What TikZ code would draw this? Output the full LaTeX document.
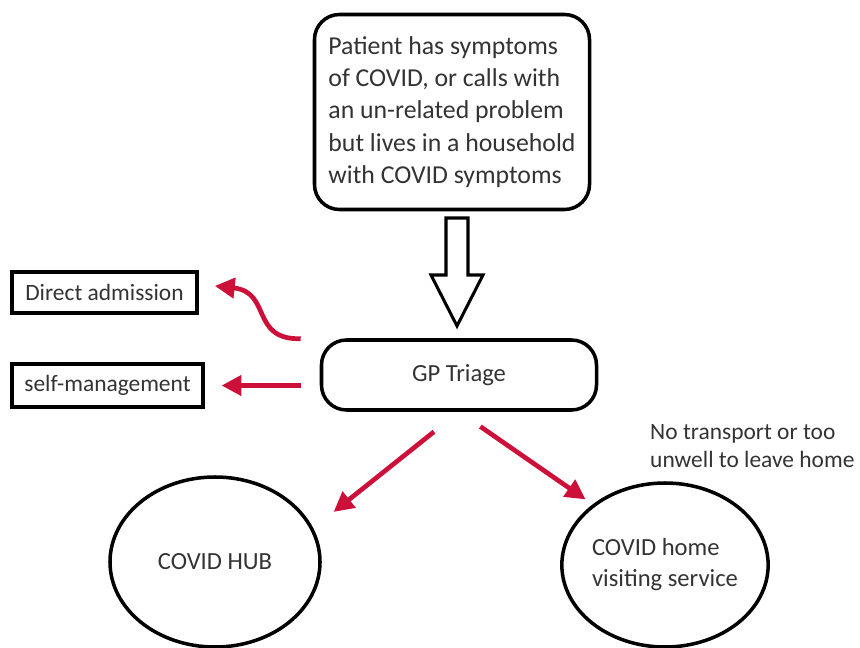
\documentclass[tikz,border=0pt]{standalone}
\usepackage{fontspec}
\setmainfont{Carlito}
\usepackage{tikz}
\usetikzlibrary{
	shapes.geometric,
	arrows.meta,
	calc
}
\definecolor{triagered}{RGB}{205,16,58}
\definecolor{inktext}{RGB}{51,51,51}

\begin{document}
\begin{tikzpicture}[
				x=0.03cm, y=-0.03cm,
				font=\fontsize{21}{26.5}\selectfont, text=inktext,
				stage/.style={
					rectangle, draw, line width=3pt, rounded corners=0.75cm,
					align=center
				},
				labelbox/.style={
					rectangle, draw, line width=3.2pt, inner sep=0pt,
					font=\fontsize{20}{24}\selectfont
				},
				service/.style={
					ellipse, draw, line width=3pt, inner sep=0pt, align=left
				},
				arrow/.style={-{Triangle[length=17pt,width=17pt]}, line width=4pt, triagered}
				]
				\useasboundingbox (0,0) rectangle (860,648);
				
				% patient
				\node[stage, minimum width=8.25cm, minimum height=5.85cm, align=left,
					font=\fontsize{22}{27.5}\selectfont] (patient) at (452,112)
					{Patient has symptoms\\of COVID, or calls with\\an un-related problem\\but lives in a household\\with COVID symptoms};
				
				% GP triage
				\node[stage, minimum width=8.25cm, minimum height=2.1cm] (triage) at (459,375) {GP Triage};
				
				% direct admission
				\node[labelbox, minimum width=5.55cm, minimum height=1.23cm] (admission) at (104.5,292.5) {Direct admission};
				
				% self-management
				\node[labelbox, minimum width=5.73cm, minimum height=1.29cm] (selfcare) at (107.5,385.5) {self-management};
				
				% hub
				\node[service, minimum width=6.3cm, minimum height=5.1cm] (hub) at (215,562) {COVID HUB};
				
				% home visiting
				\node[service, minimum width=6.15cm, minimum height=4.92cm] (home) at (665,565) {COVID home\\visiting service};
				
				% note
				\node[anchor=north west, inner sep=0pt, align=left,
					font=\fontsize{20}{24}\selectfont] (note) at (650,424) {No transport or too\\unwell to leave home};
				
				% hollow arrow
				\draw[line width=2.6pt, fill=white] (446,218) -- (468,218) -- (468,275) -- (483,275)
					-- (457,326) -- (431,275) -- (446,275) -- cycle;
				
				% red arrows
				\draw[arrow, shorten <=0.57cm, shorten >=0.48cm] (triage.north west)
					.. controls (250,340) and (272,292) .. (admission.5);
				\draw[arrow, shorten <=0.57cm, shorten >=0.5cm] (triage.west |- selfcare.east) -- (selfcare.east);
				\draw[arrow, shorten <=0.96cm, shorten >=0.78cm] (triage.south) -- (hub.19);
				\draw[arrow, shorten <=0.78cm, shorten >=0.26cm] (triage.south) -- (home.140);
			\end{tikzpicture}
\end{document}
